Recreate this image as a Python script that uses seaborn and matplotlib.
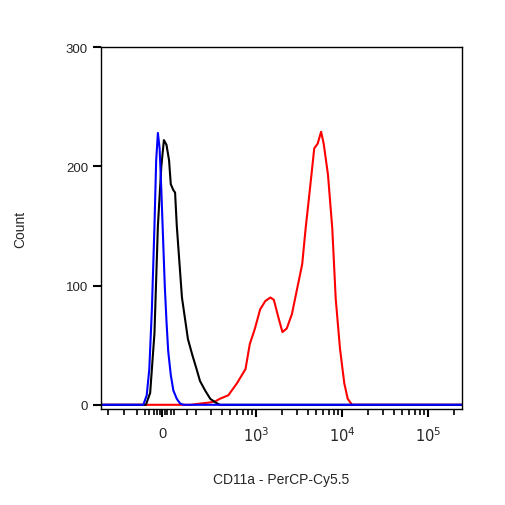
import numpy as np
import pandas as pd
import matplotlib
matplotlib.use("Agg")
import matplotlib.pyplot as plt
import seaborn as sns

sns.set_style("white")
plt.rcParams['font.family'] = ['Liberation Sans', 'DejaVu Sans']

# x in display (biexponential) units: 0 -> 0, 10^3 -> 1.093, 10^4 -> 2.093, 10^5 -> 3.093
XMIN, XMAX = -0.71, 3.49
blue_x = [XMIN, -0.22, -0.18, -0.15, -0.12, -0.09, -0.07, -0.05, -0.03, -0.01, 0.01, 0.03, 0.05, 0.07, 0.10, 0.13, 0.17, 0.21, 0.25, XMAX]
blue_y = [0, 0, 8, 30, 80, 150, 205, 228, 215, 180, 140, 100, 70, 45, 25, 12, 5, 1, 0, 0]
black_x = [XMIN, -0.19, -0.14, -0.09, -0.05, -0.01, 0.02, 0.05, 0.08, 0.10, 0.13, 0.15, 0.17, 0.20, 0.23,
           0.27, 0.30, 0.35, 0.40, 0.44, 0.50, 0.56, 0.62, 0.67, XMAX]
black_y = [0, 0, 10, 60, 150, 200, 222, 218, 205, 185, 180, 178, 150, 120, 90,
           70, 55, 42, 30, 20, 12, 5, 2, 0, 0]
red_x = [XMIN, 0.33, 0.44, 0.56, 0.62, 0.67, 0.77, 0.79, 0.87, 0.97, 1.02, 1.08, 1.14, 1.20, 1.26, 1.30,
         1.35, 1.40, 1.45, 1.51, 1.57, 1.63, 1.67, 1.72, 1.77, 1.81, 1.85, 1.88, 1.93, 1.98, 2.02,
         2.07, 2.12, 2.16, 2.21, XMAX]
red_y = [0, 0, 1, 2, 3, 5, 8, 10, 18, 30, 51, 64, 80, 87, 90, 88,
         74, 61, 64, 76, 97, 118, 148, 181, 215, 219, 229, 219, 193, 148, 89,
         47, 18, 5, 0, 0]

major_pos = [0, 1.093, 2.093, 3.093]
major_lab = ["0", "$10^3$", "$10^4$", "$10^5$"]
minor_pos = [-0.63, -0.45, -0.29, -0.2, -0.15, -0.1, -0.06, -0.03, 0.03, 0.06, 0.1, 0.14, 0.29]
minor_pos += [1.093 + np.log10(k) - 1 for k in range(2, 10)]
minor_pos += [d + np.log10(k) for d in (1.093, 2.093) for k in range(2, 10)]
minor_pos += [3.093 + np.log10(k) for k in range(2, 4)]
y_ticks = [0, 100, 200, 300]

fig = plt.figure(figsize=(5.06, 5.06), dpi=100)
ax = fig.add_axes([0.2, 0.19, 0.713, 0.715])
for xs, ys, c in [(red_x, red_y, "#ff0000"), (black_x, black_y, "black"), (blue_x, blue_y, "#0000ff")]:
    sns.lineplot(x=xs, y=ys, color=c, lw=1.5, ax=ax, sort=False, estimator=None)

ax.set_xticks(major_pos)
ax.set_xticklabels(major_lab)
ax.set_xticks(minor_pos, minor=True)
ax.set_yticks(y_ticks)
ax.set_xlim(XMIN, XMAX)
ax.set_ylim(-3.4, 300)
ax.tick_params(bottom=True, left=True, which='both')
ax.tick_params(axis='both', which='major', direction='out', length=6, width=1.5, labelsize=9.5, color='black')
ax.tick_params(axis='x', which='major', labelsize=10.5)
ax.tick_params(axis='x', which='minor', direction='out', length=4, width=1.2, color='black')
ax.tick_params(axis='x', which='major', pad=6)
for s in ax.spines.values():
    s.set_color('black')
    s.set_linewidth(1.0)
ax.set_xlabel("CD11a - PerCP-Cy5.5", fontsize=10, labelpad=20)
ax.set_ylabel("Count", fontsize=10, labelpad=28)
fig.savefig("out.png", dpi=100)
